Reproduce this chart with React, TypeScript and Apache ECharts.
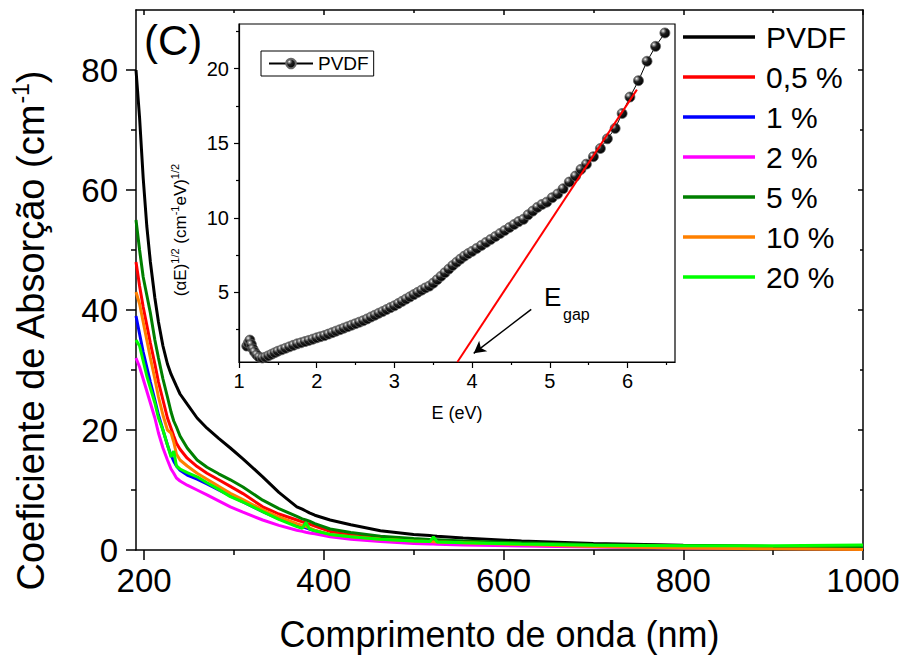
import React, { useEffect, useRef } from 'react';
import * as echarts from 'echarts';

const FONT = '"Liberation Sans", Arial, Helvetica, sans-serif';

// ---------- main chart data ----------
const WAVELENGTH = [191, 195, 199, 203, 207, 212, 216, 221, 226, 230, 233, 236, 240, 248, 259, 270, 283, 296, 310, 332, 350, 370, 376, 380, 384, 390, 407, 430, 463, 500, 518, 522, 526, 555, 620, 700, 800, 900, 1000];

const PVDF = [80, 72, 62, 54, 48, 42, 38, 34, 31, 29.3, 28.3, 27.3, 26, 24.3, 22, 20.3, 18.6, 17, 15.2, 12.2, 9.6, 7.2, 6.8, 6.5, 6.2, 5.8, 5.0, 4.2, 3.2, 2.6, 2.4, 2.35, 2.3, 2.0, 1.5, 1.1, 0.8, 0.6, 0.5];
const P05 = [48, 44, 40.5, 37.5, 34.5, 31, 28, 25, 22, 20.3, 19, 17.8, 16.8, 15.3, 13.9, 12.8, 11.7, 10.6, 9.4, 7.2, 6.0, 5.0, 4.7, 4.5, 4.3, 4.0, 3.1, 2.5, 2.0, 1.6, 1.45, 1.42, 1.4, 1.3, 1.0, 0.75, 0.55, 0.4, 0.3];
const P1 = [39, 36, 33, 30.5, 28, 25, 22.5, 20, 17.5, 15.8, 14.8, 14, 13.3, 12.5, 11.8, 11, 10, 9, 8, 6.4, 5.2, 4.2, 3.9, 3.7, 3.5, 3.2, 2.5, 2.0, 1.6, 1.3, 1.2, 1.18, 1.15, 1.0, 0.8, 0.6, 0.45, 0.35, 0.3];
const P2 = [32, 30.5, 28.5, 26.5, 24.5, 22, 19.5, 17, 15, 13.5, 12.8, 12, 11.5, 10.8, 10, 9.2, 8.2, 7.2, 6.3, 5.0, 4.1, 3.3, 3.1, 2.95, 2.85, 2.7, 2.2, 1.8, 1.4, 1.1, 1.0, 0.98, 0.95, 0.85, 0.65, 0.5, 0.35, 0.25, 0.2];
const P5 = [55, 50, 45.5, 42.5, 39.5, 35, 32, 28.5, 25.5, 23, 21.5, 20.5, 19, 17, 15, 13.8, 12.7, 11.7, 10.5, 8.3, 6.9, 5.6, 5.2, 5.0, 4.8, 4.4, 3.5, 2.9, 2.3, 1.9, 1.75, 1.72, 1.7, 1.5, 1.2, 0.9, 0.7, 0.55, 0.5];
const P10 = [43, 41, 38, 35, 32, 28.5, 25.5, 22.5, 20, 19.5, 18, 16, 15, 14, 12.8, 11.8, 10.6, 9.45, 8.4, 6.7, 5.5, 4.4, 4.1, 3.9, 3.7, 3.3, 2.6, 2.2, 1.8, 1.5, 1.4, 1.38, 1.35, 1.2, 0.9, 0.6, 0.35, 0.2, 0.1];
const P20 = [35, 34, 31.5, 29, 27, 24.5, 22, 20, 17.5, 15.5, 16.5, 14, 13.5, 12.9, 12.2, 11.2, 10.1, 8.9, 8.0, 6.4, 5.1, 3.9, 3.6, 4.6, 3.5, 3.2, 2.6, 2.2, 1.8, 1.5, 1.4, 2.2, 1.35, 1.2, 1.0, 0.8, 0.7, 0.7, 0.85];

const SERIES_NAMES = ['PVDF', '0,5 %', '1 %', '2 %', '5 %', '10 %', '20 %'];
const SERIES_VALUES = [PVDF, P05, P1, P2, P5, P10, P20];
const SERIES_COLORS = ['#000000', '#ff0000', '#0000ff', '#ff00ff', '#007f00', '#ff8000', '#00ff00'];

const X_TICKS = [200, 400, 600, 800, 1000];
const X_MINOR = [300, 500, 700, 900];
const Y_TICKS = [0, 20, 40, 60, 80];
const Y_MINOR = [10, 30, 50, 70];

// ---------- inset data (Tauc plot) ----------
const ENERGY = [1.10, 1.12, 1.14, 1.16, 1.18, 1.20, 1.23, 1.26, 1.30, 1.34, 1.38, 1.42, 1.46, 1.50, 1.55, 1.60, 1.65, 1.70, 1.75, 1.80, 1.85, 1.90, 1.95, 2.00, 2.05, 2.10, 2.15, 2.20, 2.25, 2.30, 2.35, 2.40, 2.45, 2.50, 2.55, 2.60, 2.65, 2.70, 2.75, 2.80, 2.85, 2.90, 2.95, 3.00, 3.05, 3.10, 3.15, 3.20, 3.25, 3.30, 3.35, 3.40, 3.45, 3.50, 3.55, 3.60, 3.65, 3.70, 3.75, 3.80, 3.85, 3.90, 3.95, 4.00, 4.06, 4.12, 4.18, 4.24, 4.30, 4.36, 4.42, 4.48, 4.54, 4.60, 4.66, 4.72, 4.78, 4.84, 4.90, 4.96, 5.03, 5.10, 5.17, 5.25, 5.33, 5.40, 5.47, 5.56, 5.65, 5.74, 5.84, 5.93, 6.03, 6.14, 6.25, 6.36, 6.48];
const TAUC = [1.4, 1.6, 1.8, 1.5, 1.2, 1.0, 0.8, 0.65, 0.6, 0.65, 0.75, 0.85, 0.95, 1.05, 1.15, 1.25, 1.35, 1.45, 1.55, 1.62, 1.7, 1.78, 1.86, 1.95, 2.03, 2.1, 2.2, 2.3, 2.4, 2.5, 2.6, 2.7, 2.8, 2.9, 3.0, 3.1, 3.22, 3.35, 3.47, 3.6, 3.72, 3.85, 3.98, 4.1, 4.25, 4.4, 4.55, 4.7, 4.85, 5.0, 5.15, 5.3, 5.42, 5.62, 5.85, 6.08, 6.32, 6.56, 6.8, 7.02, 7.23, 7.43, 7.6, 7.75, 7.95, 8.15, 8.35, 8.55, 8.75, 8.95, 9.15, 9.35, 9.55, 9.75, 9.9, 10.2, 10.45, 10.7, 10.9, 11.05, 11.35, 11.6, 11.95, 12.4, 12.8, 13.25, 13.6, 14.1, 14.65, 15.3, 16.0, 17.0, 18.1, 19.2, 20.5, 21.5, 22.4];
const FIT_E = [3.81, 6.12];
const FIT_Y = [0.33, 18.6];
const ARROW_FROM = [4.76, 3.86];
const ARROW_TO = [4.02, 0.91];

const INSET_X_TICKS = [1, 2, 3, 4, 5, 6];
const INSET_X_MINOR = [1.5, 2.5, 3.5, 4.5, 5.5, 6.5];
const INSET_Y_TICKS = [5, 10, 15, 20];
const INSET_Y_MINOR = [2.5, 7.5, 12.5, 17.5, 22.5];

const BLACK = '#000';

function tickAxis(gridIndex: number, min: number, max: number, position: string, ticks: number[], length: number, lineShow: boolean, label: any, width = 1.5, inside = false) {
  return {
    type: 'value',
    gridIndex, min, max, position,
    splitLine: { show: false },
    axisPointer: { show: false },
    axisLine: { show: lineShow, onZero: false, lineStyle: { color: BLACK, width } },
    axisTick: { show: true, inside, length, customValues: ticks, lineStyle: { color: BLACK, width } },
    axisLabel: label
      ? { show: true, customValues: ticks, color: BLACK, fontFamily: FONT, formatter: (v: number) => String(v), ...label }
      : { show: false },
  };
}

export default function App() {
  const ref = useRef<HTMLDivElement>(null);

  useEffect(() => {
    if (!ref.current) return;
    const chart = echarts.init(ref.current, undefined, { renderer: 'svg' });

    const mainSeries = SERIES_NAMES.map((name, i) => ({
      name,
      type: 'line',
      xAxisIndex: 0,
      yAxisIndex: 0,
      data: WAVELENGTH.map((w, j) => [w, SERIES_VALUES[i][j]]),
      symbol: 'none',
      showSymbol: false,
      color: SERIES_COLORS[i],
      lineStyle: { color: SERIES_COLORS[i], width: 3 },
      z: 2 + i,
    }));

    const sphere = {
      type: 'radial',
      x: 0.32, y: 0.3, r: 0.7,
      colorStops: [
        { offset: 0, color: '#ffffff' },
        { offset: 0.15, color: '#a0a0a0' },
        { offset: 0.45, color: '#202020' },
        { offset: 1, color: '#000' },
      ],
    };

    const option: any = {
      animation: false,
      backgroundColor: '#ffffff',
      textStyle: { fontFamily: FONT },
      grid: [
        { left: 136, top: 10, width: 727, height: 540, show: false },
        { left: 239, top: 24, width: 436, height: 338, show: true, borderColor: BLACK, borderWidth: 1.2, backgroundColor: '#fff' },
      ],
      xAxis: [
        {
          ...tickAxis(0, 191, 1000, 'bottom', X_TICKS, 10, true, { fontSize: 33, margin: 14 }),
          name: 'Comprimento de onda (nm)', nameLocation: 'middle', nameGap: 66,
          nameTextStyle: { fontSize: 36, color: BLACK, fontFamily: FONT },
        },
        tickAxis(0, 191, 1000, 'bottom', X_MINOR, 5, false, null),
        tickAxis(0, 191, 1000, 'top', X_TICKS, 5, true, null, 1.5, true),
        tickAxis(0, 191, 1000, 'top', X_MINOR, 3, false, null, 1.5, true),
        {
          ...tickAxis(1, 1, 6.61, 'bottom', INSET_X_TICKS, 6, true, { fontSize: 20, margin: 9 }, 1.2),
          name: 'E (eV)', nameLocation: 'middle', nameGap: 42,
          nameTextStyle: { fontSize: 18, color: BLACK, fontFamily: FONT },
        },
        tickAxis(1, 1, 6.61, 'bottom', INSET_X_MINOR, 3, false, null, 1.2),
      ],
      yAxis: [
        tickAxis(0, 0, 90, 'left', Y_TICKS, 10, true, { fontSize: 33, margin: 18 }),
        tickAxis(0, 0, 90, 'left', Y_MINOR, 5, false, null),
        tickAxis(0, 0, 90, 'right', Y_TICKS, 5, true, null, 1.5, true),
        tickAxis(0, 0, 90, 'right', Y_MINOR, 3, false, null, 1.5, true),
        tickAxis(1, 0.33, 23, 'left', INSET_Y_TICKS, 5, true, { fontSize: 20, margin: 10 }, 1.2),
        tickAxis(1, 0.33, 23, 'left', INSET_Y_MINOR, 3, false, null, 1.2),
      ],
      legend: [
        {
          data: SERIES_NAMES,
          orient: 'vertical',
          left: 683,
          top: 22,
          padding: 0,
          icon: 'rect',
          itemWidth: 72,
          itemHeight: 3.5,
          itemGap: 10,
          selectedMode: false,
          textStyle: { fontSize: 30, color: BLACK, fontFamily: FONT, padding: [0, 0, 0, 6], lineHeight: 30 },
        },
        {
          data: ['PVDF-inset'],
          formatter: () => 'PVDF',
          orient: 'horizontal',
          left: 261,
          top: 51,
          padding: [3, 5, 3, 7],
          borderColor: BLACK,
          borderWidth: 1,
          itemWidth: 44,
          itemHeight: 12,
          selectedMode: false,
          textStyle: { fontSize: 19, color: BLACK, fontFamily: FONT },
        },
      ],
      series: [
        ...mainSeries,
        {
          name: 'PVDF-inset',
          type: 'line',
          xAxisIndex: 4,
          yAxisIndex: 4,
          data: ENERGY.map((e, j) => [e, TAUC[j]]),
          symbol: 'circle',
          symbolSize: 10,
          showSymbol: true,
          color: '#000',
          itemStyle: { color: sphere, borderColor: '#666', borderWidth: 0.8 },
          lineStyle: { color: '#000', width: 1 },
          z: 20,
        },
        {
          name: 'fit',
          type: 'line',
          xAxisIndex: 4,
          yAxisIndex: 4,
          data: FIT_E.map((e, j) => [e, FIT_Y[j]]),
          symbol: 'none',
          lineStyle: { color: '#ff0000', width: 2 },
          color: '#ff0000',
          z: 21,
          markLine: {
            silent: true,
            symbol: ['none', 'arrow'],
            symbolSize: [10, 12],
            label: { show: false },
            lineStyle: { color: BLACK, width: 1.5, type: 'solid' },
            data: [[{ coord: ARROW_FROM }, { coord: ARROW_TO }]],
          },
        },
      ],
      graphic: [
        {
          type: 'text',
          x: 31,
          y: 331,
          rotation: Math.PI / 2,
          style: {
            text: '{a|Coeficiente de Absorção (cm}{s|-1}{a|)}',
            align: 'center',
            verticalAlign: 'middle',
            fill: BLACK,
            rich: {
              a: { fontSize: 38, fontFamily: FONT, fill: BLACK, lineHeight: 44 },
              s: { fontSize: 23, fontFamily: FONT, fill: BLACK, verticalAlign: 'top', lineHeight: 23 },
            },
          },
        },
        {
          type: 'text',
          x: 144,
          y: 40,
          style: { text: '(C)', fontSize: 42, fontFamily: FONT, fill: BLACK, align: 'left', verticalAlign: 'middle' },
        },
        {
          type: 'text',
          x: 180,
          y: 230,
          rotation: Math.PI / 2,
          style: {
            text: '{a|(αE)}{s|1/2}{a| (cm}{s|-1}{a|eV)}{s|1/2}',
            align: 'center',
            verticalAlign: 'middle',
            fill: BLACK,
            rich: {
              a: { fontSize: 17, fontFamily: FONT, fill: BLACK, lineHeight: 21 },
              s: { fontSize: 11, fontFamily: FONT, fill: BLACK, verticalAlign: 'top', lineHeight: 11 },
            },
          },
        },
        {
          type: 'text',
          x: 544,
          y: 297,
          style: { text: 'E', fontSize: 26, fontFamily: FONT, fill: BLACK, align: 'left', verticalAlign: 'middle' },
        },
        {
          type: 'text',
          x: 563,
          y: 314,
          style: { text: 'gap', fontSize: 16, fontFamily: FONT, fill: BLACK, align: 'left', verticalAlign: 'middle' },
        },
      ],
    };

    chart.setOption(option);
    return () => chart.dispose();
  }, []);

  return (
    <div
      ref={ref}
      style={{ position: 'fixed', left: 0, top: 0, width: 905, height: 659, background: '#fff' }}
    />
  );
}
